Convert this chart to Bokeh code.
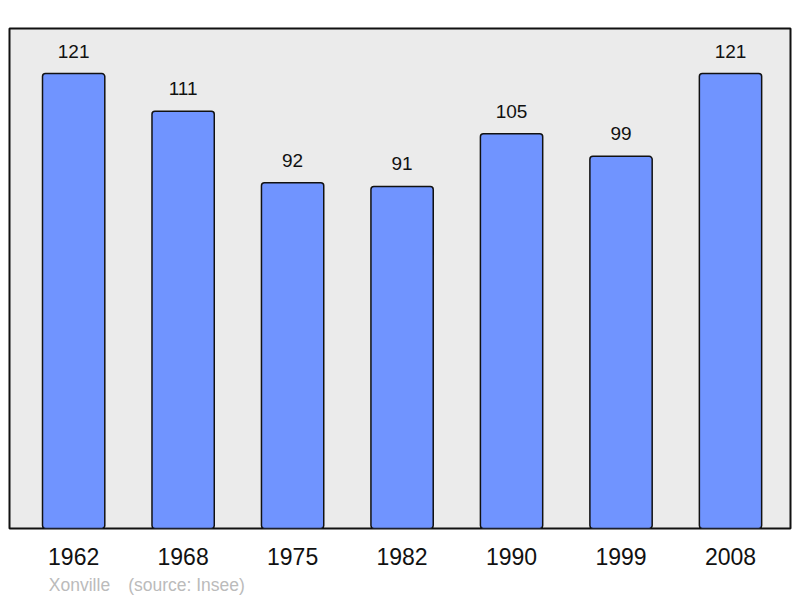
from bokeh.plotting import figure
from bokeh.models import Range1d, FixedTicker, LinearAxis, ColumnDataSource
from bokeh.core.properties import value
from bokeh.embed import file_html
from bokeh.resources import INLINE

years = ["1962", "1968", "1975", "1982", "1990", "1999", "2008"]
population = [121, 111, 92, 91, 105, 99, 121]
footer_texts = ["Xonville", "(source: Insee)"]

xs = list(range(len(years)))
src = ColumnDataSource(dict(x=xs, y=population, lab=[str(v) for v in population]))

FONT = "Liberation Sans"

p = figure(width=800, height=598, output_backend="svg", toolbar_location=None,
           x_range=Range1d(-0.586, 6.548), y_range=Range1d(0, 133),
           min_border_left=9, min_border_right=10, min_border_top=28, min_border_bottom=70)
p.outline_line_color = "#111111"
p.outline_line_width = 2
p.background_fill_color = "#ebebeb"
p.border_fill_color = "white"
p.grid.visible = False
p.yaxis.visible = False

p.vbar(x="x", top="y", width=0.569, source=src, fill_color="#7094ff", line_color="#111111",
       line_width=1.5, border_radius=3)

p.text(x="x", y="y", text="lab", source=src, y_offset=-16, text_align="center", text_baseline="bottom",
       text_font=value(FONT), text_font_size="19px", text_color="#111111")

ax = p.xaxis[0]
ax.ticker = FixedTicker(ticks=xs)
ax.major_label_overrides = {i: y for i, y in enumerate(years)}
ax.axis_line_color = None
ax.major_tick_line_color = None
ax.minor_tick_line_color = None
ax.major_tick_out = 0
ax.major_label_standoff = 19
ax.major_label_text_font = FONT
ax.major_label_text_font_size = "23px"
ax.major_label_text_color = "#111111"

# footer line: a second axis in pixel-like units across the frame
p.extra_x_ranges = {"footer": Range1d(9, 790)}
foot_pos = [79, 186]
ax2 = LinearAxis(x_range_name="footer", ticker=FixedTicker(ticks=foot_pos),
                 major_label_overrides={pos: t for pos, t in zip(foot_pos, footer_texts)})
ax2.axis_line_color = None
ax2.major_tick_line_color = None
ax2.minor_tick_line_color = None
ax2.major_tick_out = 0
ax2.major_tick_in = 0
ax2.major_label_standoff = 7
ax2.major_label_text_font = FONT
ax2.major_label_text_font_size = "17.5px"
ax2.major_label_text_color = "#bbbbbb"
p.add_layout(ax2, "below")

open("out.html", "w").write(file_html(p, INLINE))
